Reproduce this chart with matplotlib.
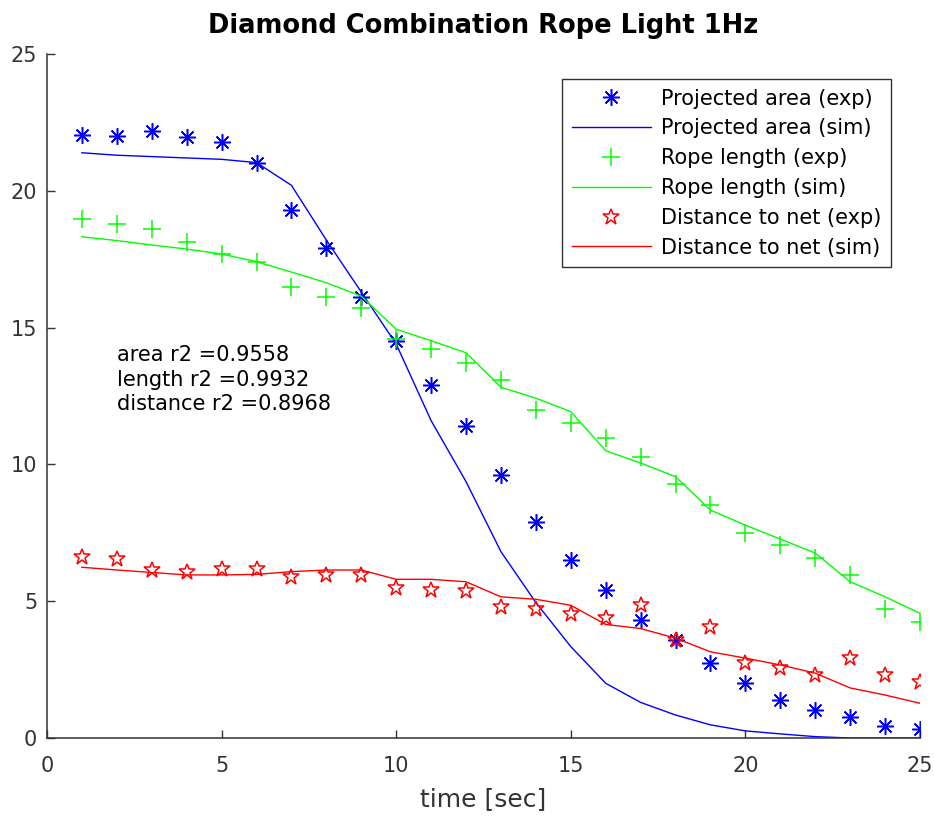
import matplotlib
matplotlib.use("Agg")
import matplotlib.pyplot as plt

# time axis (seconds)
t = [1, 2, 3, 4, 5, 6, 7, 8, 9, 10, 11, 12, 13, 14, 15, 16, 17, 18, 19, 20, 21, 22, 23, 24, 25]

# projected area
area_exp = [22.04, 22.0, 22.18, 21.97, 21.8, 21.0, 19.3, 17.9, 16.1, 14.5, 12.9, 11.4, 9.6,
            7.9, 6.5, 5.4, 4.3, 3.58, 2.74, 2.0, 1.39, 1.02, 0.76, 0.44, 0.33]
area_sim = [21.39, 21.3, 21.25, 21.2, 21.15, 21.03, 20.2, 18.2, 16.3, 14.4, 11.6, 9.37, 6.81,
            4.95, 3.34, 2.0, 1.3, 0.84, 0.48, 0.26, 0.15, 0.05, 0.0, 0.0, 0.0]

# rope length
length_exp = [18.97, 18.8, 18.6, 18.14, 17.7, 17.4, 16.5, 16.1, 15.7, 14.6, 14.2, 13.7, 13.1,
              12.0, 11.5, 10.96, 10.27, 9.3, 8.5, 7.5, 7.05, 6.57, 5.96, 4.7, 4.25]
length_sim = [18.32, 18.18, 18.02, 17.87, 17.69, 17.41, 17.03, 16.64, 16.15, 14.94, 14.52, 14.08,
              12.82, 12.42, 11.93, 10.5, 10.05, 9.55, 8.33, 7.78, 7.27, 6.76, 5.71, 5.16, 4.56]

# distance to net
dist_exp = [6.6, 6.54, 6.14, 6.08, 6.17, 6.17, 5.88, 5.96, 5.96, 5.48, 5.41, 5.39, 4.79,
            4.72, 4.52, 4.38, 4.86, 3.58, 4.07, 2.75, 2.55, 2.3, 2.92, 2.3, 2.06]
dist_sim = [6.24, 6.14, 6.05, 5.96, 5.96, 5.98, 6.08, 6.14, 6.14, 5.8, 5.8, 5.71, 5.16,
            5.07, 4.85, 4.15, 4.0, 3.65, 3.15, 2.92, 2.67, 2.37, 1.83, 1.57, 1.27]

r2_text = ["area r2 =0.9558", "length r2 =0.9932", "distance r2 =0.8968"]

axis_col = "#333333"
fs = 15

fig = plt.figure(figsize=(9.34, 8.18), dpi=100)
ax = fig.add_axes([0.0503, 0.0978, 0.9347, 0.8362])

asterisk = (8, 2, 0)
ax.plot(t, area_exp, linestyle="none", marker=asterisk, color="#0000ff",
        markersize=12, markeredgewidth=1.1, label="Projected area (exp)")
ax.plot(t, area_sim, color="#0000ff", linewidth=1.0, label="Projected area (sim)")
ax.plot(t, length_exp, linestyle="none", marker="+", color="#00ff00",
        markersize=13, markeredgewidth=1.1, label="Rope length (exp)")
ax.plot(t, length_sim, color="#00ff00", linewidth=1.0, label="Rope length (sim)")
ax.plot(t, dist_exp, linestyle="none", marker="*", color="#ff0000", markerfacecolor="none",
        markersize=12, markeredgewidth=1.1, label="Distance to net (exp)")
ax.plot(t, dist_sim, color="#ff0000", linewidth=1.0, label="Distance to net (sim)")

ax.text(2, 13.1, "\n".join(r2_text), fontsize=fs, color="black", ha="left", va="center",
        linespacing=1.3)

ax.set_xlim(0, 25)
ax.set_ylim(0, 25)
ax.set_xticks([0, 5, 10, 15, 20, 25])
ax.set_yticks([0, 5, 10, 15, 20, 25])
ax.tick_params(direction="in", length=6, width=1, colors=axis_col, labelsize=fs,
               labelcolor=axis_col)
ax.tick_params(axis="x", pad=13)
ax.tick_params(axis="y", pad=7)
ax.spines["top"].set_visible(False)
ax.spines["right"].set_visible(False)
for s in ("left", "bottom"):
    ax.spines[s].set_color(axis_col)
    ax.spines[s].set_linewidth(1.1)

ax.set_xlabel("time [sec]", fontsize=18, color=axis_col, labelpad=8)
ax.set_title("Diamond Combination Rope Light 1Hz", fontsize=18.5, fontweight="bold",
             color="black", pad=15)

leg = ax.legend(loc="upper right", bbox_to_anchor=(0.967, 0.963), borderaxespad=0,
                fontsize=fs, numpoints=1, fancybox=False, framealpha=1,
                edgecolor=axis_col, handlelength=3.8, handletextpad=0.5,
                labelspacing=0.47, borderpad=0.45)
leg.get_frame().set_linewidth(1.0)

fig.savefig("out.png", dpi=100)
